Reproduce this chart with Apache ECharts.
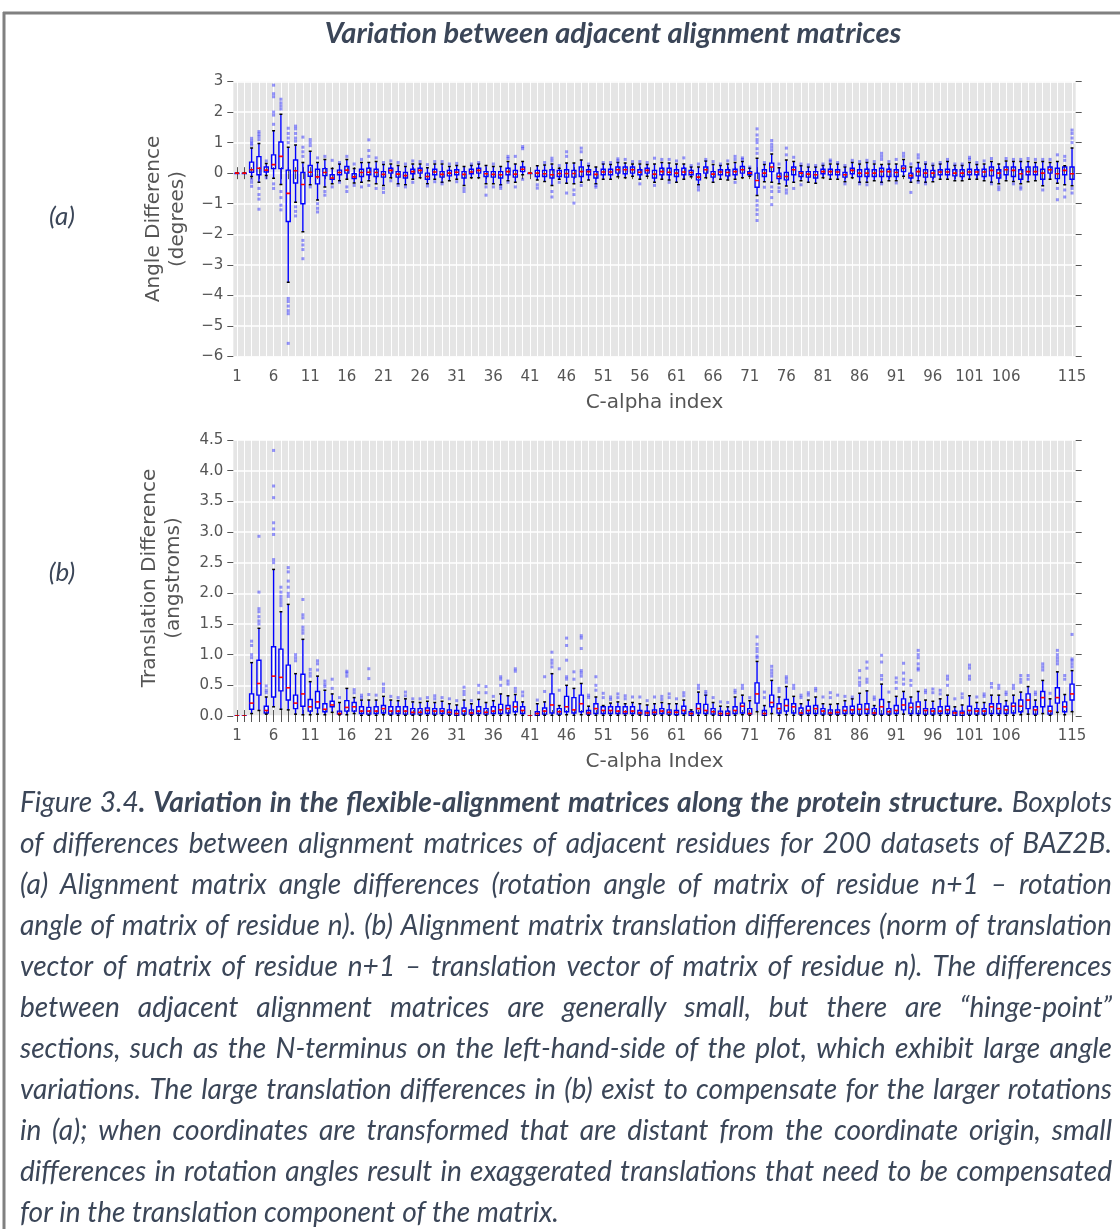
<!DOCTYPE html>
<html><head><meta charset="utf-8">
<script src="https://cdn.jsdelivr.net/npm/echarts@6.0.0/dist/echarts.min.js"></script>
<style>html,body{margin:0;padding:0;background:#fff}#c{width:1120px;height:1229px}</style>
</head><body><div id="c"></div><script>
// ---------------- DATA ----------------
const categories = Array.from({length:115}, (_, i) => String(i + 1));
const xTickLabels = ['1','6','11','16','21','26','31','36','41','46','51','56','61','66','71','76','81','86','91','96','101','106','115'];
const angleTicks = [-6,-5,-4,-3,-2,-1,0,1,2,3];
const transTicks = [0,0.5,1,1.5,2,2.5,3,3.5,4,4.5];

// (a) angle differences (degrees): whisker low, Q1, median, Q3, whisker high
const angleLo = [0,0,-0.11,-0.3,-0.08,-0.17,-0.37,-3.57,-0.95,-1.92,
 -0.38,-0.88,-0.45,-0.35,-0.25,-0.2,-0.32,-0.3,-0.25,-0.35,
 -0.4,-0.15,-0.35,-0.38,-0.2,-0.15,-0.35,-0.2,-0.3,-0.25,
 -0.2,-0.4,-0.15,-0.15,-0.35,-0.35,-0.38,-0.25,-0.3,-0.05,
 0,-0.22,-0.27,-0.4,-0.2,-0.33,-0.35,-0.3,-0.22,-0.35,
 -0.2,-0.2,-0.12,-0.15,-0.1,-0.2,-0.1,-0.3,-0.2,-0.22,
 -0.3,-0.2,-0.12,-0.38,-0.15,-0.3,-0.2,-0.22,-0.2,-0.15,
 -0.1,-0.73,-0.28,-0.3,-0.35,-0.42,-0.3,-0.25,-0.3,-0.33,
 -0.15,-0.2,-0.2,-0.28,-0.15,-0.3,-0.3,-0.25,-0.3,-0.25,
 -0.25,-0.1,-0.3,-0.25,-0.3,-0.28,-0.2,-0.2,-0.25,-0.25,
 -0.2,-0.2,-0.25,-0.3,-0.35,-0.25,-0.27,-0.35,-0.28,-0.25,
 -0.41,-0.2,-0.33,-0.38,-0.41];
const angleQ1 = [0,0,0.03,-0.05,0.04,0.15,0.15,-1.58,-0.32,-1.0,
 -0.1,-0.35,-0.08,-0.2,-0.05,0.0,-0.18,-0.11,-0.05,-0.11,
 -0.13,0.0,-0.13,-0.16,-0.02,0.0,-0.2,-0.05,-0.13,-0.09,
 -0.05,-0.16,-0.02,0.0,-0.11,-0.13,-0.16,-0.05,-0.13,0.05,
 0,-0.11,-0.11,-0.16,-0.11,-0.13,-0.13,-0.11,-0.05,-0.16,
 -0.05,-0.05,0.0,-0.02,0.0,-0.05,0.0,-0.16,-0.05,-0.05,
 -0.11,-0.05,-0.05,-0.22,0.0,-0.13,-0.05,-0.09,-0.05,0.0,
 -0.05,-0.46,-0.11,0.05,-0.18,-0.22,-0.05,-0.11,-0.13,-0.16,
 -0.02,-0.05,-0.05,-0.13,-0.02,-0.11,-0.11,-0.11,-0.11,-0.11,
 -0.11,0.05,-0.16,-0.09,-0.13,-0.13,-0.05,-0.05,-0.09,-0.11,
 -0.05,-0.05,-0.11,-0.09,-0.16,-0.05,-0.11,-0.2,-0.05,-0.05,
 -0.2,0.0,-0.18,-0.05,-0.2];
const angleMed = [0,0,0.11,0.16,0.1,0.28,0.55,-0.66,0.08,-0.37,
 0.03,-0.12,0.02,-0.16,0.02,0.1,-0.12,0.02,0.03,0.02,
 -0.04,0.09,-0.03,-0.08,0.05,0.09,-0.11,0.04,-0.04,0.0,
 0.03,-0.04,0.04,0.09,-0.02,-0.04,-0.05,0.05,-0.03,0.13,
 0,0.0,-0.02,-0.05,-0.01,-0.01,-0.01,0.05,0.05,-0.04,
 0.04,0.04,0.11,0.11,0.11,0.03,0.09,-0.03,0.05,0.03,
 0.0,0.04,0.02,-0.13,0.11,-0.03,0.04,0.02,0.05,0.11,
 0.0,-0.24,0.0,0.2,-0.11,-0.11,0.11,0.0,-0.03,-0.05,
 0.05,0.05,0.04,-0.05,0.09,0.0,0.0,0.0,0.05,0.05,
 0.02,0.16,-0.08,0.05,0.0,0.0,0.04,0.04,0.0,0.0,
 0.04,0.04,0.04,0.09,0.0,0.11,0.09,-0.02,0.05,0.05,
 0.0,0.11,-0.02,0.09,-0.02];
const angleQ3 = [0,0,0.36,0.54,0.2,0.6,1.02,0.1,0.43,0.02,
 0.25,0.13,0.15,-0.05,0.1,0.22,-0.02,0.13,0.16,0.13,
 0.05,0.16,0.05,0.02,0.13,0.16,0.0,0.13,0.05,0.09,
 0.11,0.05,0.13,0.16,0.05,0.05,0.05,0.16,0.09,0.2,
 0,0.09,0.09,0.11,0.09,0.11,0.09,0.2,0.11,0.05,
 0.13,0.13,0.2,0.2,0.2,0.11,0.16,0.09,0.16,0.16,
 0.11,0.16,0.09,-0.02,0.2,0.05,0.11,0.11,0.13,0.22,
 0.05,0.0,0.11,0.33,0.0,0.02,0.2,0.05,0.05,0.05,
 0.13,0.13,0.11,0.02,0.16,0.11,0.13,0.11,0.16,0.13,
 0.11,0.24,0.0,0.16,0.11,0.09,0.11,0.13,0.11,0.11,
 0.13,0.11,0.13,0.2,0.11,0.2,0.2,0.11,0.2,0.2,
 0.13,0.2,0.16,0.2,0.2];
const angleHi = [0,0,0.82,0.97,0.32,1.39,1.93,0.85,0.92,0.35,
 0.72,0.35,0.45,0.15,0.3,0.45,0.15,0.35,0.35,0.38,
 0.28,0.3,0.25,0.22,0.3,0.3,0.18,0.3,0.3,0.22,
 0.25,0.22,0.25,0.3,0.25,0.22,0.22,0.38,0.3,0.38,
 0,0.24,0.27,0.3,0.16,0.33,0.33,0.43,0.24,0.2,
 0.3,0.28,0.35,0.33,0.3,0.3,0.28,0.3,0.35,0.33,
 0.3,0.3,0.2,0.2,0.4,0.28,0.25,0.3,0.35,0.38,
 0.16,0.49,0.28,0.63,0.18,0.43,0.38,0.24,0.2,0.2,
 0.25,0.3,0.3,0.2,0.35,0.3,0.35,0.3,0.28,0.3,
 0.3,0.45,0.2,0.35,0.3,0.25,0.3,0.38,0.25,0.25,
 0.35,0.28,0.3,0.38,0.3,0.4,0.38,0.38,0.38,0.35,
 0.38,0.35,0.38,0.24,0.82];
const angleOut = [[],[],[1.14,1.05,0.98,0.92,-0.2,-0.3,-0.43],[1.36,1.28,1.2,1.1,-0.5,-0.7,-0.85,-1.18],[0.4,-0.15],
 [2.88,2.6,2.5,2.0,1.9,1.6,-0.35,-0.5],[2.42,2.3,2.2,2.1,-0.6,-0.8,-1.05,-1.2],[1.47,1.3,1.15,1.0,-4.1,-4.2,-4.35,-4.5,-4.6,-5.57],
 [1.54,1.45,1.3,1.15,1.05,-1.1,-1.25,-1.4],[1.18,0.85,0.7,0.55,-2.2,-2.35,-2.5,-2.8],
 [1.1,1.0,0.9,-0.45],[0.5,-1.0,-1.15,-1.27],[0.55,-0.6,-0.72],[0.42,-0.45],[0.35,-0.3],[0.55,-0.45,-0.6],[0.3,-0.4],[0.45,-0.45],[1.09,0.74,0.55,-0.4],[0.5,-0.5],
 [0.35,-0.5,-0.63],[0.4,-0.25],[0.35,-0.4],[0.3,-0.45],[0.4,-0.3],[0.38],[0.28,-0.42],[0.38,-0.28],[0.38,-0.35],[0.3],
 [0.32,-0.28],[-0.5,-0.6],[0.3],[0.35],[-0.45,-0.72],[0.3,-0.45],[-0.42,-0.5],[0.55,0.48,-0.3],[0.55,-0.45],[0.87,0.8,-0.2],
 [],[-0.38,-0.49],[0.35],[0.49,0.4,-0.6,-0.78],[0.25,-0.3],[0.7,0.55,-0.65],[-0.55,-0.7,-0.98],[0.82,0.7,-0.4],[0.3],[-0.4,-0.46],
 [0.35],[0.35],[0.47,0.4],[0.45],[0.38],[0.38,-0.35],[0.35],[0.49,-0.4],[0.45],[0.45,-0.3],
 [0.4],[0.5],[0.25],[0.3,-0.45,-0.55],[0.45],[0.38],[0.3],[0.4],[0.55,0.45,-0.3],[0.5,0.45],
 [0.2],[1.45,1.25,1.1,1.0,0.8,0.65,-0.9,-1.05,-1.2,-1.35,-1.55],[0.35,-0.46],[1.07,0.95,0.85,0.75,-0.45,-0.6,-0.8,-1.03],[0.3,-0.48,-0.6],[0.82,0.6,-0.55,-0.65],[0.52,-0.5],[0.3,-0.38],[0.27],[0.25],
 [0.3],[0.43,0.38],[0.35],[0.25,-0.35],[0.42],[0.38,-0.35],[0.42,-0.38],[0.38],[0.65,0.55,0.45,-0.35],[0.38],
 [0.45,-0.32],[0.65,0.55],[0.3,-0.63],[0.6,0.5,-0.3],[0.35,-0.35],[0.3],[0.35],[0.45],[0.3],[0.3],
 [0.52,0.45],[0.35],[0.4],[0.48,-0.35],[-0.45,-0.54],[0.48],[0.45,-0.35],[0.45,-0.45,-0.52],[0.48],[0.45],
 [0.45,-0.55],[0.45],[0.6,-0.5,-0.87],[0.55,0.42,-0.55,-0.78],[1.41,1.3,1.15,1.0,-0.5,-0.65]];

// (b) translation differences (angstroms)
const transLo = [0,0,0.04,0.09,0.03,0.15,0.11,0.1,0.03,0.02,
 0.02,0.03,0.02,0.06,0.02,0.02,0.04,0.01,0.01,0.01,
 0.02,0.01,0.01,0.01,0.01,0.01,0.01,0.01,0.01,0.01,
 0.0,0.01,0.01,0.01,0.01,0.01,0.01,0.01,0.02,0.01,
 0,0.0,0.01,0.01,0.01,0.02,0.01,0.02,0.01,0.01,
 0.01,0.01,0.01,0.01,0.01,0.01,0.0,0.01,0.01,0.01,
 0.0,0.01,0.0,0.01,0.01,0.01,0.0,0.0,0.01,0.02,
 0.01,0.07,0.0,0.04,0.01,0.02,0.01,0.01,0.01,0.01,
 0.01,0.01,0.01,0.01,0.01,0.01,0.01,0.01,0.01,0.01,
 0.01,0.03,0.01,0.01,0.01,0.01,0.01,0.01,0.0,0.0,
 0.01,0.01,0.01,0.01,0.01,0.01,0.01,0.02,0.03,0.01,
 0.04,0.01,0.06,0.02,0.07];
const transQ1 = [0,0,0.11,0.34,0.05,0.31,0.41,0.26,0.12,0.16,
 0.08,0.13,0.07,0.15,0.03,0.08,0.08,0.04,0.03,0.04,
 0.05,0.03,0.04,0.03,0.03,0.03,0.04,0.03,0.04,0.03,
 0.01,0.03,0.03,0.04,0.03,0.04,0.04,0.05,0.07,0.04,
 0,0.01,0.03,0.05,0.03,0.07,0.05,0.07,0.03,0.04,
 0.04,0.04,0.04,0.04,0.04,0.03,0.01,0.03,0.04,0.03,
 0.02,0.04,0.01,0.05,0.04,0.03,0.01,0.01,0.04,0.05,
 0.03,0.21,0.01,0.15,0.05,0.08,0.05,0.03,0.04,0.04,
 0.03,0.03,0.03,0.04,0.04,0.03,0.04,0.03,0.03,0.03,
 0.04,0.1,0.04,0.04,0.03,0.03,0.04,0.04,0.01,0.01,
 0.03,0.03,0.03,0.04,0.04,0.04,0.05,0.07,0.12,0.03,
 0.15,0.03,0.21,0.07,0.26];
const transMed = [0,0,0.21,0.53,0.09,0.65,0.63,0.46,0.21,0.36,
 0.15,0.23,0.11,0.18,0.04,0.14,0.15,0.08,0.08,0.08,
 0.12,0.08,0.08,0.08,0.06,0.06,0.09,0.08,0.08,0.06,
 0.04,0.08,0.05,0.08,0.06,0.08,0.1,0.12,0.15,0.09,
 0,0.04,0.08,0.18,0.07,0.15,0.1,0.2,0.05,0.12,
 0.09,0.09,0.08,0.07,0.08,0.05,0.05,0.06,0.08,0.06,
 0.06,0.09,0.04,0.12,0.09,0.07,0.04,0.04,0.09,0.16,
 0.04,0.36,0.04,0.22,0.12,0.17,0.15,0.05,0.09,0.12,
 0.08,0.05,0.06,0.09,0.1,0.11,0.11,0.05,0.15,0.07,
 0.09,0.18,0.14,0.15,0.09,0.08,0.08,0.1,0.05,0.05,
 0.09,0.08,0.08,0.15,0.12,0.1,0.16,0.16,0.26,0.1,
 0.3,0.08,0.3,0.15,0.36];
const transQ3 = [0,0,0.36,0.91,0.16,1.13,1.09,0.83,0.34,0.68,
 0.27,0.4,0.2,0.24,0.08,0.25,0.22,0.15,0.14,0.15,
 0.17,0.15,0.15,0.15,0.12,0.12,0.13,0.12,0.12,0.1,
 0.09,0.13,0.1,0.15,0.12,0.15,0.19,0.17,0.23,0.15,
 0,0.07,0.13,0.36,0.12,0.32,0.3,0.34,0.09,0.2,
 0.15,0.15,0.15,0.15,0.15,0.09,0.08,0.1,0.12,0.1,
 0.09,0.16,0.07,0.2,0.19,0.12,0.08,0.08,0.15,0.21,
 0.12,0.54,0.09,0.34,0.2,0.27,0.2,0.13,0.16,0.17,
 0.12,0.1,0.1,0.15,0.16,0.19,0.2,0.12,0.27,0.12,
 0.17,0.28,0.21,0.23,0.12,0.12,0.15,0.16,0.08,0.08,
 0.16,0.12,0.12,0.2,0.2,0.16,0.21,0.26,0.36,0.15,
 0.4,0.16,0.46,0.23,0.52];
const transHi = [0,0,0.87,1.43,0.31,2.39,1.7,1.82,0.69,1.25,
 0.56,0.65,0.42,0.36,0.22,0.45,0.3,0.26,0.26,0.26,
 0.32,0.26,0.25,0.28,0.23,0.22,0.24,0.22,0.24,0.2,
 0.18,0.26,0.2,0.27,0.22,0.25,0.36,0.33,0.35,0.23,
 0,0.2,0.23,0.69,0.17,0.5,0.45,0.53,0.16,0.31,
 0.17,0.21,0.23,0.2,0.22,0.2,0.18,0.2,0.22,0.2,
 0.2,0.26,0.1,0.39,0.34,0.22,0.16,0.15,0.31,0.34,
 0.25,0.89,0.17,0.58,0.31,0.48,0.32,0.2,0.26,0.31,
 0.2,0.19,0.2,0.25,0.28,0.37,0.41,0.17,0.52,0.23,
 0.32,0.4,0.31,0.4,0.26,0.24,0.28,0.34,0.15,0.18,
 0.33,0.22,0.22,0.34,0.34,0.25,0.34,0.39,0.48,0.26,
 0.58,0.28,0.72,0.35,0.74];
const transOut = [[],[],[1.22,1.15,1.0,0.95],[2.93,2.02,1.75,1.7,1.62,1.55,1.5],[0.49,0.42,0.38],
 [4.33,3.75,3.56,3.15,3.05,2.96,2.55,2.5],[2.1,2.02,1.95,1.9,1.85,1.8],[2.42,2.35,2.2,2.1,2.0,1.95],[1.0,0.95,0.9],[1.9,1.65,1.6,1.45,1.4,1.35],
 [0.76,0.7,0.65],[0.9,0.85,0.75],[0.57,0.52,0.48],[0.6,0.45],[0.3],[0.73,0.7,0.65],[0.43,0.38],[0.34,0.3],[0.77,0.61,0.35],[0.34],
 [0.52,0.45,0.4],[0.32],[0.3],[0.39,0.33],[0.28],[0.28],[0.3],[0.33,0.28],[0.3],[0.28],
 [0.25],[0.47,0.4,0.35],[0.25],[0.5,0.38],[0.48,0.38],[0.32],[0.64,0.6,0.5],[0.57,0.52],[0.77,0.73,0.45,0.4],[0.39,0.33],
 [],[0.26],[0.64,0.4],[1.04,0.91,0.86,0.8],[0.77,0.42],[1.27,1.15,0.91,0.64,0.6],[0.72,0.6],[1.31,1.27,1.1,0.74,0.7,0.65],[0.34,0.3],[0.64,0.5,0.42],
 [0.37,0.3],[0.31,0.27],[0.36,0.3],[0.33,0.28],[0.31],[0.31],[0.25],[0.31],[0.32,0.27],[0.36,0.3],
 [0.28],[0.38,0.33],[],[0.5,0.45],[0.4,0.36],[0.3],[0.23],[0.22],[0.42,0.38],[0.5,0.45],
 [0.3],[1.29,1.17,1.1,1.05,0.98,0.95],[0.39,0.3],[0.81,0.75,0.7,0.65],[0.45,0.4],[0.64,0.6,0.55],[0.5,0.45],[0.34,0.3],[0.38,0.34],[0.45,0.41],
 [0.31],[0.38,0.3],[0.34],[0.32],[0.31],[0.74,0.62,0.55,0.5],[0.88,0.78,0.6,0.55],[0.31,0.27],[0.99,0.88,0.66,0.6],[0.39],
 [0.62,0.55,0.45],[0.86,0.7,0.6,0.52],[0.58,0.5],[1.07,1.0,0.95,0.85,0.78,0.75],[0.42,0.38],[0.44,0.38],[0.42,0.36],[0.65,0.6,0.5],[0.28],[0.36,0.3],
 [0.83,0.78,0.65,0.6],[0.31],[0.36,0.32],[0.53,0.47],[0.5,0.45],[0.39,0.35],[0.5,0.45],[0.66,0.6,0.55],[0.66,0.6],[0.39,0.35],
 [0.85,0.8,0.75],[0.37],[1.07,1.0,0.95,0.9,0.85],[0.66,0.6],[1.33,0.93,0.9,0.85,0.8]];

const titleText = 'Variation between adjacent alignment matrices';
const captionLines = [
  [['Figure 3.4', 0], ['. Variation in the flexible-alignment matrices along the protein structure.', 1], [' Boxplots', 0]],
  [['of differences between alignment matrices of adjacent residues for 200 datasets of BAZ2B.', 0]],
  [['(a) Alignment matrix angle differences (rotation angle of matrix of residue n+1 \u2013 rotation', 0]],
  [['angle of matrix of residue n). (b) Alignment matrix translation differences (norm of translation', 0]],
  [['vector of matrix of residue n+1 \u2013 translation vector of matrix of residue n). The differences', 0]],
  [['between adjacent alignment matrices are generally small, but there are \u201chinge-point\u201d', 0]],
  [['sections, such as the N-terminus on the left-hand-side of the plot, which exhibit large angle', 0]],
  [['variations. The large translation differences in (b) exist to compensate for the larger rotations', 0]],
  [['in (a); when coordinates are transformed that are distant from the coordinate origin, small', 0]],
  [['differences in rotation angles result in exaggerated translations that need to be compensated', 0]],
  [['for in the translation component of the matrix.', 0]]
];

// ---------------- BUILD ----------------
const TXT = '#3b4658';
const GREY = '#555555';
function boxData(lo, q1, md, q3, hi) { return lo.map((v, i) => [i, v, q1[i], md[i], q3[i], hi[i]]); }
function outData(out) { const r = []; out.forEach((arr, i) => arr.forEach(v => r.push([i, v]))); return r; }

function renderBox(params, api) {
  const x = api.value(0);
  const lo = api.coord([x, api.value(1)]);
  const q1 = api.coord([x, api.value(2)]);
  const md = api.coord([x, api.value(3)]);
  const q3 = api.coord([x, api.value(4)]);
  const hi = api.coord([x, api.value(5)]);
  const band = api.size([1, 0])[0];
  const bw = band * 0.55, cw = band * 0.4, cx = md[0];
  const blue = {stroke: '#0000ff', lineWidth: 1.4, fill: null};
  return {type: 'group', children: [
    {type: 'line', shape: {x1: cx, y1: hi[1], x2: cx, y2: q3[1]}, style: blue},
    {type: 'line', shape: {x1: cx, y1: q1[1], x2: cx, y2: lo[1]}, style: blue},
    {type: 'rect', shape: {x: cx - bw / 2, y: q3[1], width: bw, height: Math.max(q1[1] - q3[1], 0.5)}, style: blue},
    {type: 'line', shape: {x1: cx - cw / 2, y1: hi[1], x2: cx + cw / 2, y2: hi[1]}, style: {stroke: '#000', lineWidth: 1.5}},
    {type: 'line', shape: {x1: cx - cw / 2, y1: lo[1], x2: cx + cw / 2, y2: lo[1]}, style: {stroke: '#000', lineWidth: 1.5}},
    {type: 'line', shape: {x1: cx - bw / 2, y1: md[1], x2: cx + bw / 2, y2: md[1]}, style: {stroke: '#ff0000', lineWidth: 1.6}}
  ]};
}

const tickStyle = {show: true, alignWithLabel: true, interval: 0, length: 6, lineStyle: {color: GREY, width: 1}};
function xAxes(g, name) {
  return [{
    type: 'category', gridIndex: g, data: categories, position: 'bottom', boundaryGap: true,
    axisLine: {show: false}, axisTick: tickStyle,
    axisLabel: {interval: (i, v) => xTickLabels.indexOf(v) >= 0, color: GREY, fontSize: 15, fontFamily: 'DejaVu Sans', margin: 13},
    splitLine: {show: true, interval: 0, alignWithLabel: true, lineStyle: {color: '#ffffff', width: 1}},
    name: name, nameLocation: 'middle', nameGap: 36,
    nameTextStyle: {color: GREY, fontSize: 20, fontFamily: 'DejaVu Sans'}
  }, {
    type: 'category', gridIndex: g, data: categories, position: 'top', boundaryGap: true,
    axisLine: {show: false}, axisTick: tickStyle, axisLabel: {show: false}, splitLine: {show: false}
  }];
}
function yAxes(g, ticks, fmt, name, gap) {
  const mn = ticks[0], mx = ticks[ticks.length - 1], iv = ticks[1] - ticks[0];
  return [{
    type: 'value', gridIndex: g, min: mn, max: mx, interval: iv, position: 'left',
    axisLine: {show: false}, axisTick: {show: true, length: 6, lineStyle: {color: GREY}},
    axisLabel: {formatter: fmt, color: GREY, fontSize: 15, fontFamily: 'DejaVu Sans', margin: 10},
    splitLine: {show: true, lineStyle: {color: '#ffffff', width: 1.5}},
    name: name, nameLocation: 'middle', nameGap: gap,
    nameTextStyle: {color: GREY, fontSize: 20, fontFamily: 'DejaVu Sans', lineHeight: 24}
  }, {
    type: 'value', gridIndex: g, min: mn, max: mx, interval: iv, position: 'right',
    axisLine: {show: false}, axisTick: {show: true, length: 6, lineStyle: {color: GREY}},
    axisLabel: {show: false}, splitLine: {show: false}
  }];
}
const fmtAngle = v => (v < 0 ? '\u2212' + Math.abs(v) : String(v));
const fmtTrans = v => v.toFixed(1);

// caption layout (justified text built from measured words)
const CAP_FAMILY = 'Lato';
const capLeft = 20, capRight = 1112, capTop = 803, capStep = 41;
const ctx = document.createElement('canvas').getContext('2d');
function fontStr(b, s) { return 'italic ' + (b ? '700 ' : '400 ') + s + 'px ' + CAP_FAMILY; }
function measure(t, b, s) { ctx.font = fontStr(b, s); return ctx.measureText(t).width; }
function tokenize(line) {
  const words = []; let cur = [];
  line.forEach(([t, b]) => {
    t.split(' ').forEach((p, i) => {
      if (i > 0) { if (cur.length) words.push(cur); cur = []; }
      if (p) cur.push({t: p, b: b});
    });
  });
  if (cur.length) words.push(cur);
  return words;
}
const capWords = captionLines.map(tokenize);
let capSize = 22;
(function fit() {
  const W = capRight - capLeft;
  let maxW = 0;
  capWords.forEach((ws, li) => {
    if (li === capWords.length - 1) return;
    let w = measure(' ', 0, capSize) * (ws.length - 1);
    ws.forEach(word => word.forEach(p => { w += measure(p.t, p.b, capSize); }));
    maxW = Math.max(maxW, w);
  });
  capSize = capSize * W * 0.99 / maxW;
})();
const graphics = [];
capWords.forEach((ws, li) => {
  const y = capTop + li * capStep;
  const widths = ws.map(word => word.reduce((a, p) => a + measure(p.t, p.b, capSize), 0));
  const total = widths.reduce((a, b) => a + b, 0);
  const last = li === capWords.length - 1;
  const gap = last ? measure(' ', 0, capSize) : (capRight - capLeft - total) / (ws.length - 1);
  let x = capLeft;
  ws.forEach((word, wi) => {
    let px = x;
    word.forEach(p => {
      graphics.push({type: 'text', x: px, y: y, silent: true,
        style: {text: p.t, font: fontStr(p.b, capSize), fill: TXT, textAlign: 'left', textVerticalAlign: 'middle'}});
      px += measure(p.t, p.b, capSize);
    });
    x += widths[wi] + gap;
  });
});
graphics.push(
  {type: 'line', shape: {x1: 3, y1: 13, x2: 1120, y2: 13}, style: {stroke: '#808080', lineWidth: 3}, silent: true},
  {type: 'line', shape: {x1: 4, y1: 12, x2: 4, y2: 1229}, style: {stroke: '#808080', lineWidth: 3}, silent: true},
  {type: 'text', x: 613, y: 34, style: {text: titleText, font: 'italic 700 29px Lato', fill: TXT, textAlign: 'center', textVerticalAlign: 'middle'}},
  {type: 'text', x: 62, y: 217, style: {text: '(a)', font: 'italic 400 26px Lato', fill: TXT, textAlign: 'center', textVerticalAlign: 'middle'}},
  {type: 'text', x: 62, y: 573, style: {text: '(b)', font: 'italic 400 26px Lato', fill: TXT, textAlign: 'center', textVerticalAlign: 'middle'}}
);

const outStyle = {color: 'rgba(20,20,255,0.55)'};
const chart = echarts.init(document.getElementById('c'), null, {renderer: 'canvas'});
chart.setOption({
  animation: false,
  backgroundColor: '#ffffff',
  grid: [
    {left: 233.3, top: 81.5, width: 842.4, height: 275, show: true, backgroundColor: '#e5e5e5', borderWidth: 0},
    {left: 233.3, top: 440, width: 842.4, height: 276, show: true, backgroundColor: '#e5e5e5', borderWidth: 0}
  ],
  xAxis: xAxes(0, 'C-alpha index').concat(xAxes(1, 'C-alpha Index')),
  yAxis: yAxes(0, angleTicks, fmtAngle, 'Angle Difference\n(degrees)', 44).concat(
         yAxes(1, transTicks, fmtTrans, 'Translation Difference\n(angstroms)', 48)),
  series: [
    {type: 'scatter', xAxisIndex: 0, yAxisIndex: 0, data: outData(angleOut), symbol: 'rect', symbolSize: 3, itemStyle: outStyle, silent: true},
    {type: 'custom', xAxisIndex: 0, yAxisIndex: 0, data: boxData(angleLo, angleQ1, angleMed, angleQ3, angleHi),
      renderItem: renderBox, encode: {x: 0, y: [1, 2, 3, 4, 5]}, clip: true, silent: true},
    {type: 'scatter', xAxisIndex: 2, yAxisIndex: 2, data: outData(transOut), symbol: 'rect', symbolSize: 3, itemStyle: outStyle, silent: true},
    {type: 'custom', xAxisIndex: 2, yAxisIndex: 2, data: boxData(transLo, transQ1, transMed, transQ3, transHi),
      renderItem: renderBox, encode: {x: 0, y: [1, 2, 3, 4, 5]}, clip: true, silent: true}
  ],
  graphic: {elements: graphics}
});
</script></body></html>
